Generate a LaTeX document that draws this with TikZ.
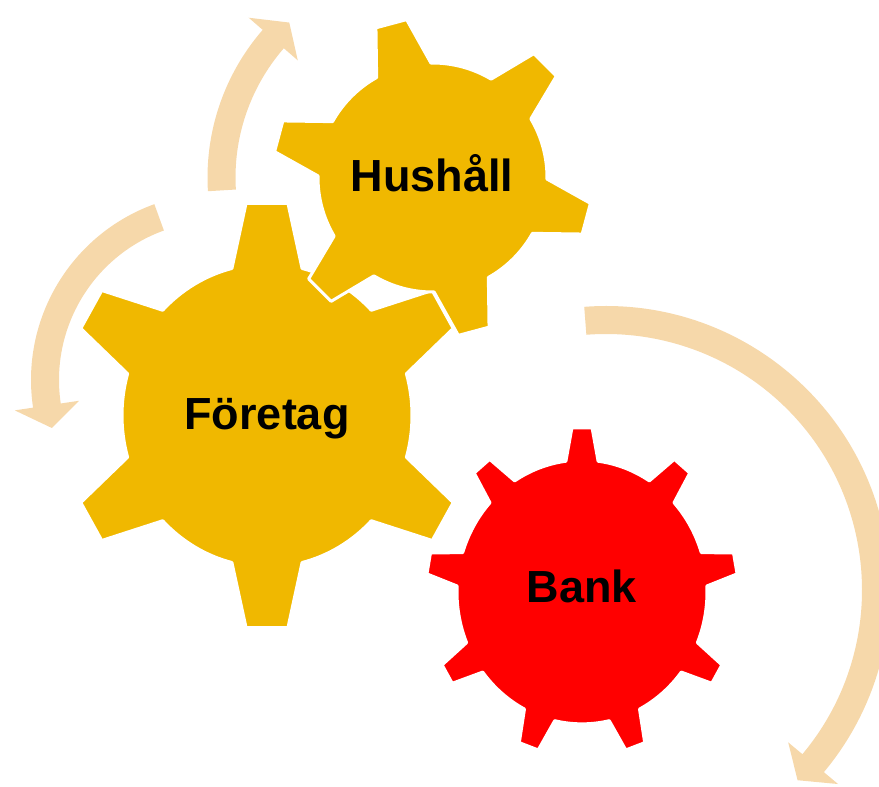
\documentclass[tikz,border=0pt]{standalone}
\usepackage{fontspec}
\setmainfont{Liberation Sans}
\usepackage{tikz}

\definecolor{gearyellow}{RGB}{240,184,0}
\definecolor{gearred}{RGB}{255,0,0}
\definecolor{flowtan}{RGB}{246,216,170}

% gear outline: teeth, first tooth angle, body radius, tip radius, base half angle, tip half angle
\newcommand{\gearpath}[6]{({#2-#5}:#3) \foreach \k in {1,...,#1}{
    -- ({#2+(\k-1)*360/#1-#5}:#3) -- ({#2+(\k-1)*360/#1-#6}:#4)
    -- ({#2+(\k-1)*360/#1+#6}:#4) -- ({#2+(\k-1)*360/#1+#5}:#3)
    arc[start angle={#2+(\k-1)*360/#1+#5}, delta angle={360/#1-2*#5}, radius=#3]
  } -- cycle}

% round arrow: centre, radius, tail angle, head angle, tip angle
\newcommand{\roundarrow}[5]{
  \begin{scope}[shift={(#1)}]
    \fill[flow] (#3:{#2+14}) arc[start angle=#3, end angle=#4, radius=#2+14]
      -- (#4:{#2+32.5}) -- (#5:#2) -- (#4:{#2-32.5}) -- (#4:{#2-14})
      arc[start angle=#4, end angle=#3, radius=#2-14] -- cycle;
  \end{scope}}

\begin{document}
\begin{tikzpicture}[
            x = 1pt, y = 1pt, % one unit is one pixel of the sketch
            flow/.style = {fill = flowtan},
            label/.style = {font = \bfseries\fontsize{45}{54}\selectfont,
                            text height = 32pt, text depth = 0pt, inner sep = 0pt}
        ]

        \tikzstyle{gear}=[
            draw = white,
            line width = 3pt,
            line join = round
        ]

        \clip (0,0) rectangle (879,787);

        \coordinate (F) at (267,371.5);
        \coordinate (H) at (432.5,609.5);
        \coordinate (B) at (582,195);

        % circular arrows
        \roundarrow{H}{211}{183.5}{139}{132.75}
        \roundarrow{218,407}{173}{109.9}{188.5}{196.1}
        \roundarrow{606,197}{270}{94.4}{-39.9}{-44.8}

        % gears
        \begin{scope}[shift={(F)}, yscale=1.045]
            \fill[gear, fill=gearyellow] \gearpath{6}{30}{145}{204}{14}{5.9};
        \end{scope}
        \begin{scope}[shift={(H)}]
            \fill[gear, fill=gearyellow] \gearpath{6}{105}{114.5}{160}{14.2}{5.7};
        \end{scope}
        \begin{scope}[shift={(B)}, yscale=1.055]
            \fill[gear, fill=gearred] \gearpath{9}{10}{125}{156}{7.4}{3.7};
        \end{scope}

        \node[label] (foretag) at (267,373) {Företag};
        \node[label] (hushall) at (432,611) {Hushåll};
        \node[label] (bank) at (582,200) {Bank};
    \end{tikzpicture}
\end{document}
